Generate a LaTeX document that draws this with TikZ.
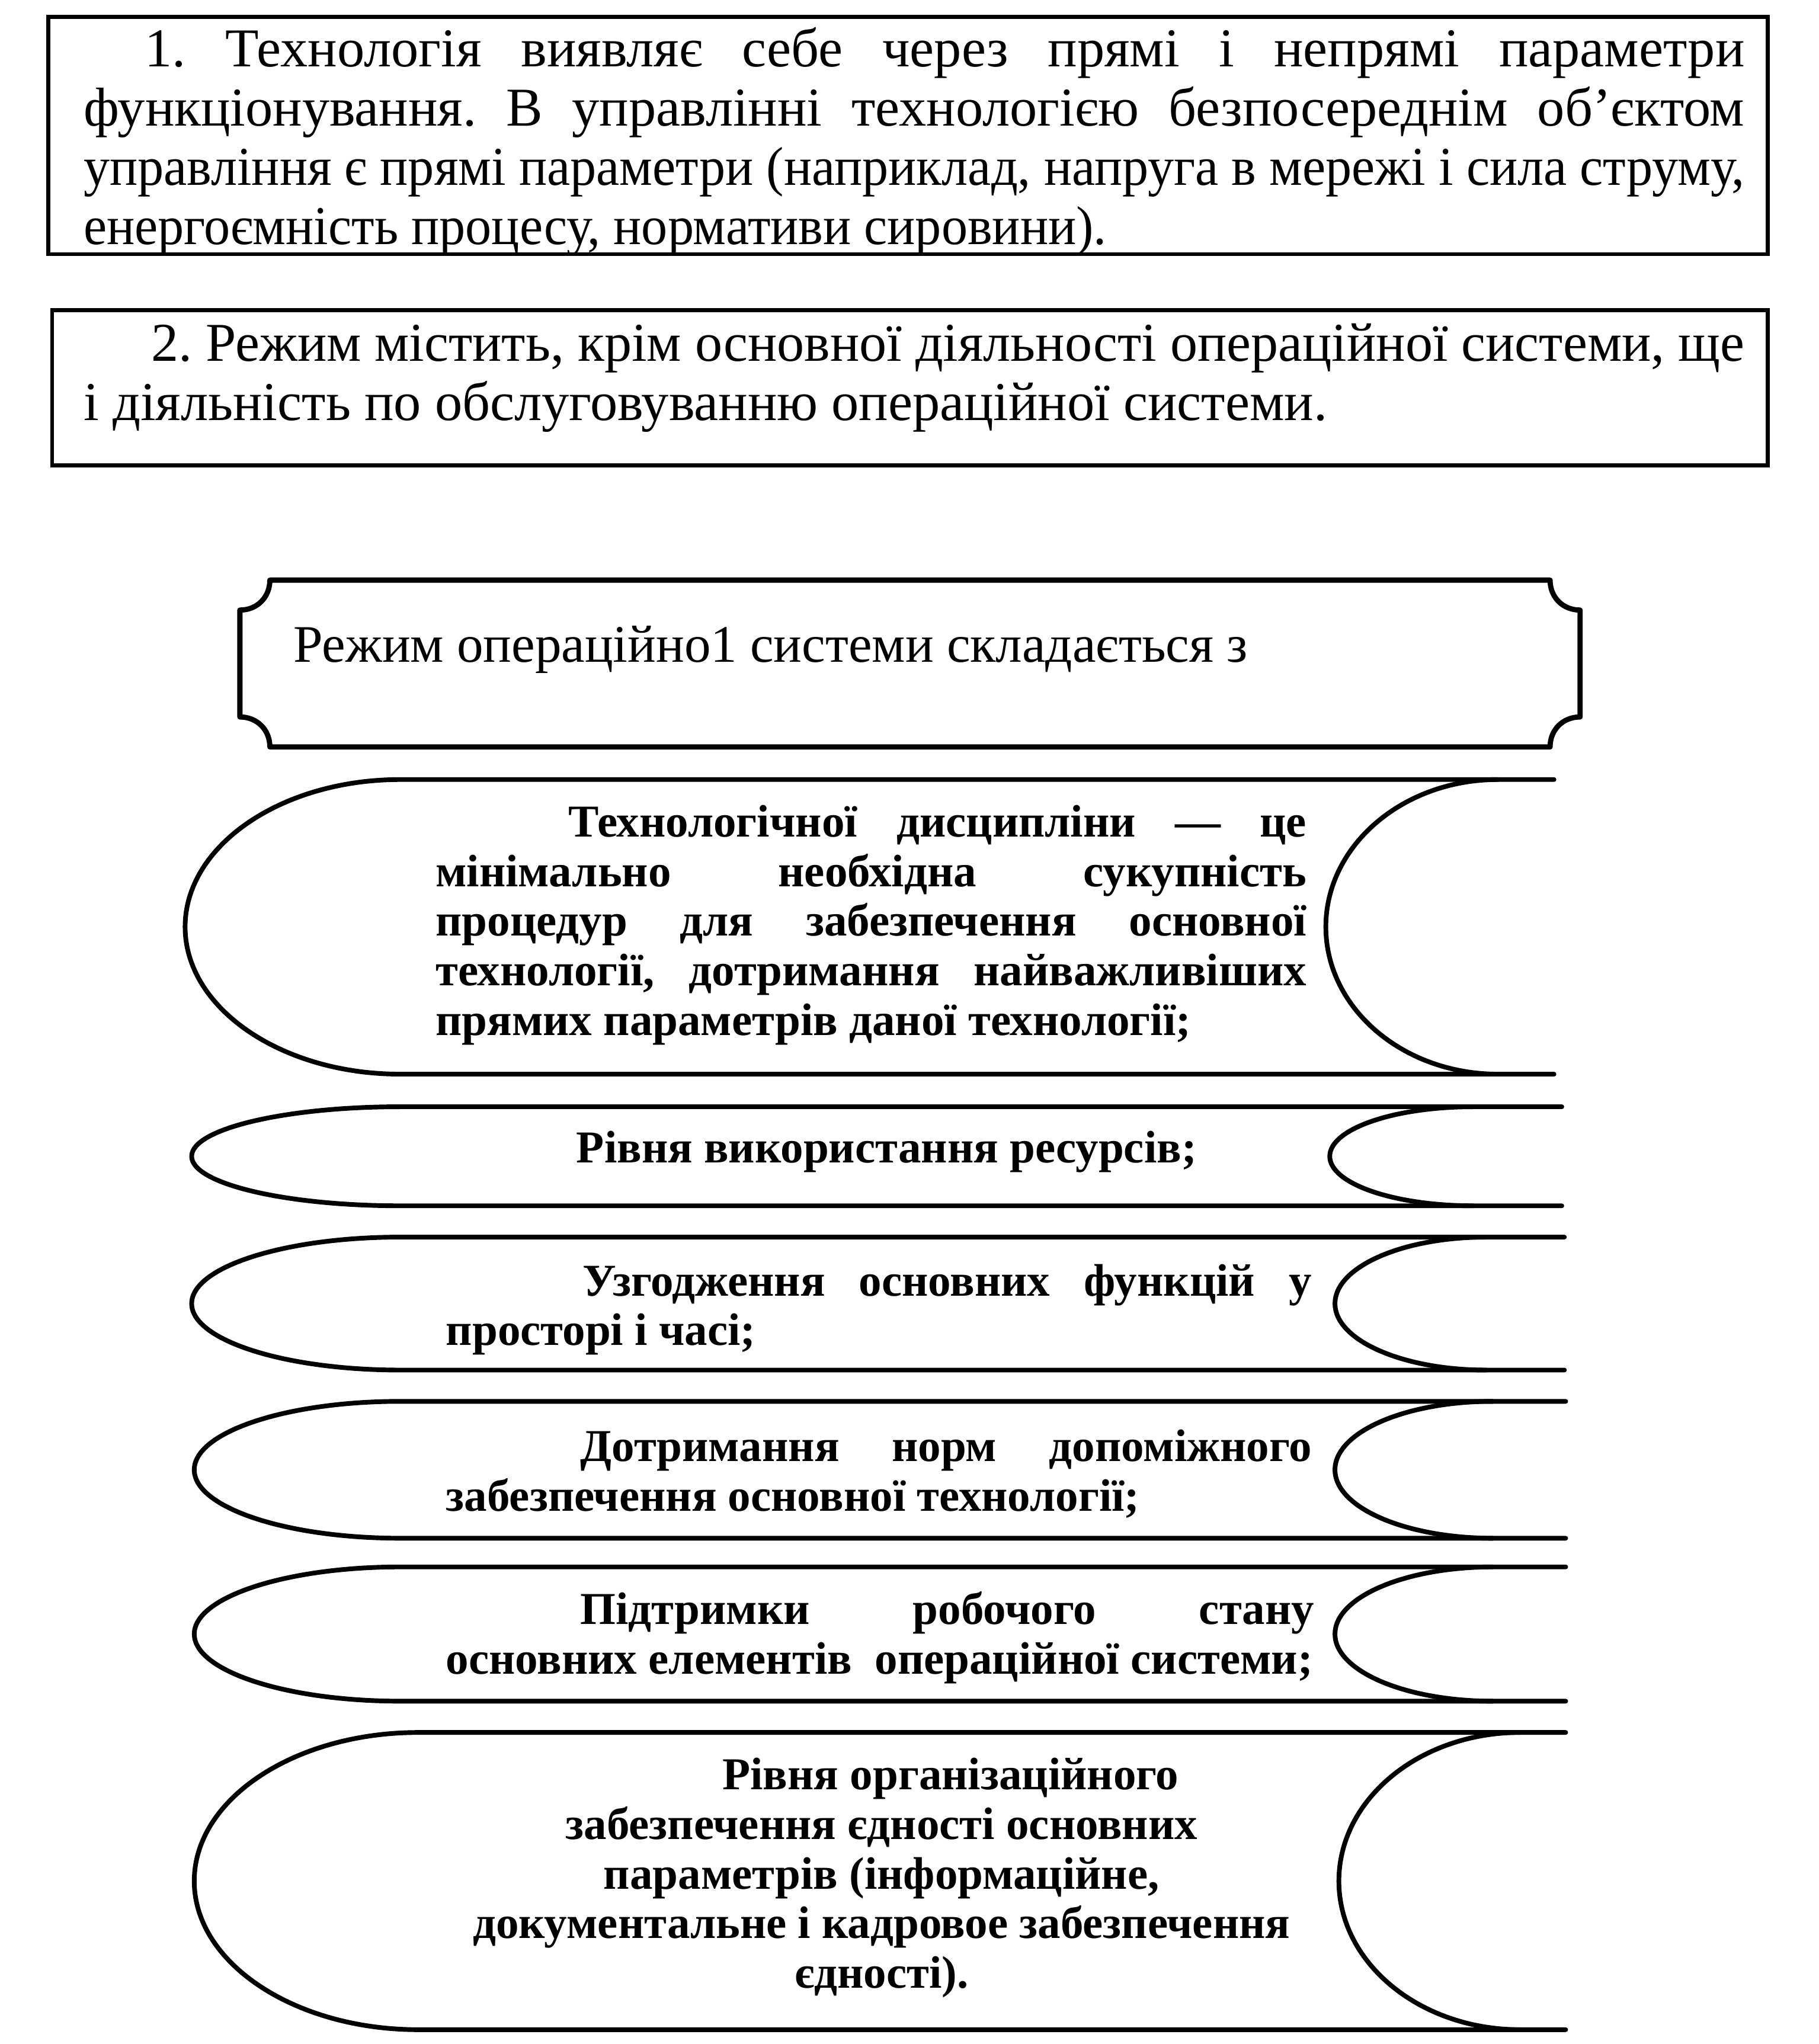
\documentclass[tikz,border=0pt]{standalone}
\usepackage{fontspec}
\setmainfont{Liberation Serif}
\usepackage{graphicx}
\newlength\Lthree
\newlength\Ltmp
\newcommand\jline[2]{\settowidth\Ltmp{#2}\ifdim\Ltmp>#1\relax\resizebox{#1}{\height}{#2}\else\makebox[#1][s]{#2}\fi}
\newcommand\scrollshape[7]{%
  \pgfmathsetmacro\sM{(#1+#2)/2}%
  \pgfmathsetmacro\sLa{#3-0.5523*(#3-#4)}%
  \pgfmathsetmacro\sRa{#5-0.5523*(#5-#6)}%
  \pgfmathsetmacro\sTu{\sM-0.5523*(\sM-#1)}%
  \pgfmathsetmacro\sBu{\sM+0.5523*(#2-\sM)}%
  \draw[scrollline] (#7,#1) -- (#3,#1) .. controls (\sLa,#1) and (#4,\sTu) .. (#4,\sM) .. controls (#4,\sBu) and (\sLa,#2) .. (#3,#2) -- (#7,#2);
  \draw[scrollline] (#5,#1) .. controls (\sRa,#1) and (#6,\sTu) .. (#6,\sM) .. controls (#6,\sBu) and (\sRa,#2) .. (#5,#2);
}
\tikzset{
  boxline/.style={line width=3pt},
  frameline/.style={line width=4pt, line join=round},
  scrollline/.style={line width=3.6pt, line cap=round, line join=round},
  plaintext/.style={inner sep=0pt, anchor=base west, font=\fontsize{42}{45.5}\selectfont\frenchspacing},
  headtext/.style={inner sep=0pt, anchor=base west, font=\fontsize{40.5}{45}\selectfont},
  boldtext/.style={inner sep=0pt, anchor=base west, font=\fontsize{35}{38}\selectfont\bfseries\frenchspacing},
}
\begin{document}
\begin{tikzpicture}[x=1pt,y=-1pt]
\useasboundingbox (0,0) rectangle (1395,1568);
\fill[white] (0,0) rectangle (1395,1568);

% box 1
\draw[boxline] (37,13) rectangle (1356,195);
\node[plaintext] (b1t) at (64,51) {\settowidth{\Lthree}{управління є прямі параметри (наприклад, напруга в мережі і сила струму,}%
\pgfmathsetmacro\cfac{1274/\the\Lthree}%
\parbox[t]{1274pt}{%
\jline{1274pt}{\hspace*{47pt}1. Технологія виявляє себе через прямі і непрямі параметри}\\
\jline{1274pt}{функціонування. В управлінні технологією безпосереднім об’єктом}\\
\resizebox{1274pt}{\height}{управління є прямі параметри (наприклад, напруга в мережі і сила струму,}\\
\scalebox{\cfac}[1]{енергоємність процесу, нормативи сировини).}}};

% box 2
\draw[boxline] (40,238) rectangle (1356,357);
\node[plaintext] (b2t) at (64,277) {\parbox[t]{1274pt}{%
\jline{1274pt}{\hspace*{52pt}2. Режим містить, крім основної діяльності операційної системи, ще}\\
і діяльність по обслуговуванню операційної системи.}};

% box 3
\draw[frameline] (207,445) -- (1189,445) .. controls (1189,458.2) and (1198.8,468) .. (1212,468) -- (1212,550) .. controls (1198.8,550) and (1189,559.8) .. (1189,573) -- (207,573) .. controls (207,559.8) and (197.2,550) .. (184,550) -- (184,468) .. controls (197.2,468) and (207,458.2) .. (207,445) -- cycle;
\node[headtext] (b3t) at (225,508) {Режим операційно1 системи складається з};

% scrolls: T B A L C V R
\scrollshape{598}{824}{307}{142}{1149}{1017}{1192}
\scrollshape{849}{925}{307}{147}{1130}{1020}{1198}
\scrollshape{949}{1051}{307}{147}{1140}{1024}{1200}
\scrollshape{1075}{1180}{307}{149}{1145}{1024}{1201}
\scrollshape{1202}{1305}{307}{149}{1145}{1024}{1201}
\scrollshape{1329}{1557}{321}{149}{1166}{1027}{1201}

\node[boldtext] (s1t) at (334,642) {\parbox[t]{668pt}{\hspace*{102pt}Технологічної дисципліни — це\linebreak мінімально необхідна сукупність\linebreak процедур для забезпечення основної\linebreak технології, дотримання найважливіших\linebreak прямих параметрів даної технології;}};
\node[boldtext] (s2t) at (340,892) {\parbox[t]{668pt}{\hspace*{102pt}Рівня використання ресурсів;}};
\node[boldtext] (s3t) at (342,994) {\parbox[t]{664pt}{\hspace*{105pt}Узгодження основних функцій у\linebreak просторі і часі;}};
\node[boldtext] (s4t) at (342,1121) {\parbox[t]{664pt}{\hspace*{103pt}Дотримання норм допоміжного\linebreak забезпечення основної технології;}};
\node[boldtext] (s5t) at (342,1246) {\parbox[t]{666pt}{\hspace*{103pt}Підтримки робочого стану\linebreak основних елементів\ \ операційної системи;}};
\node[boldtext] (s6t) at (346,1373) {\parbox[t]{660pt}{\centering\hspace*{106pt}Рівня організаційного\\забезпечення єдності основних\\параметрів (інформаційне,\\документальне і кадровое забезпечення\\єдності).}};
\end{tikzpicture}
\end{document}
